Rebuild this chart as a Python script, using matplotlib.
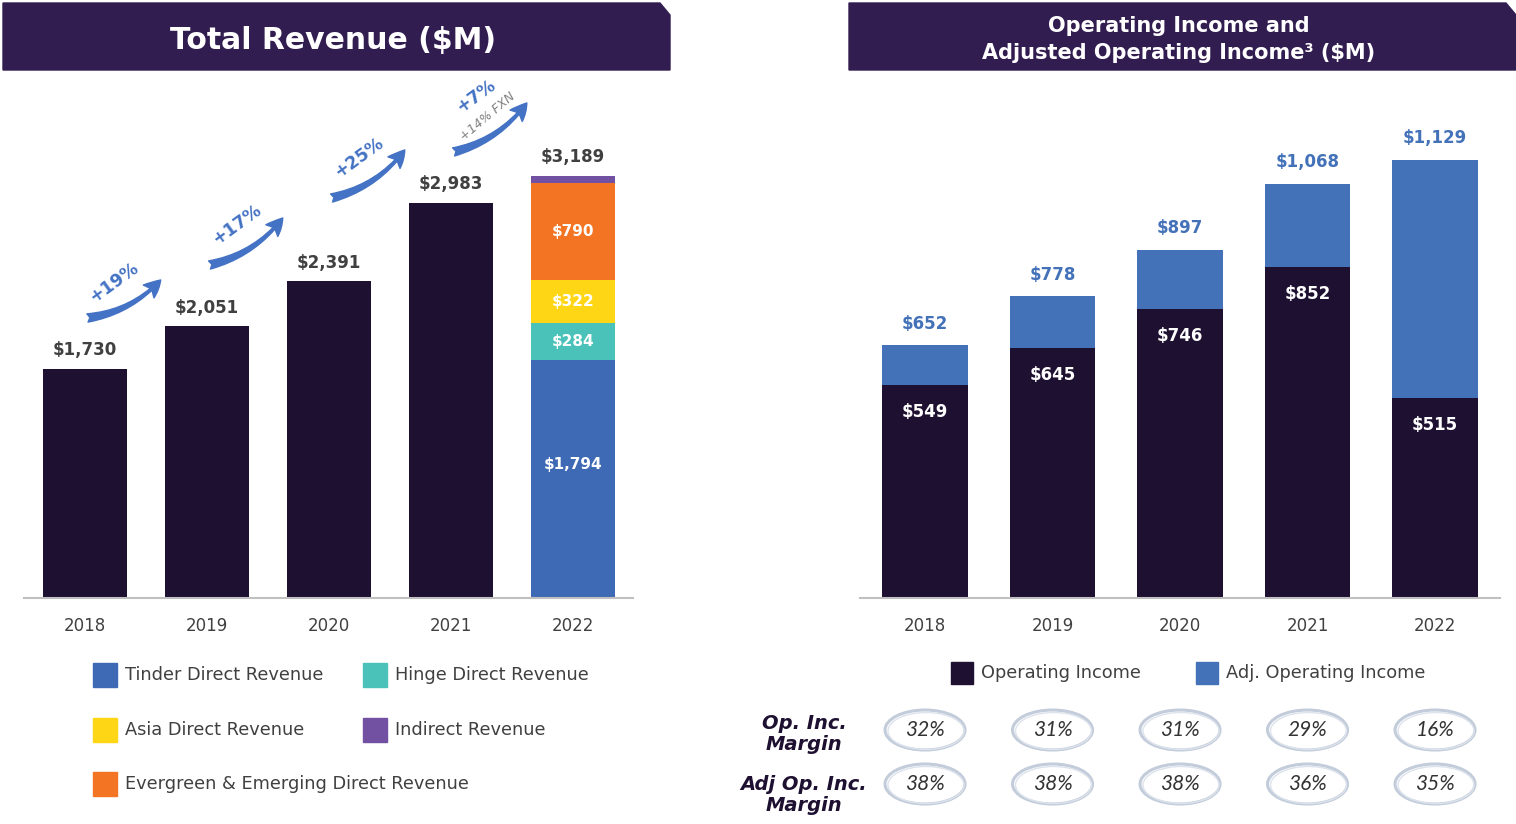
import matplotlib
matplotlib.use('Agg')
import matplotlib.pyplot as plt
from matplotlib.patches import Polygon, Rectangle, Ellipse

# ---- data ----
years = ['2018', '2019', '2020', '2021', '2022']
total_rev = [1730, 2051, 2391, 2983, 3189]
total_labels = ['$1,730', '$2,051', '$2,391', '$2,983', '$3,189']

# 2022 split (bottom -> top)
seg_names = ['Tinder Direct Revenue', 'Hinge Direct Revenue', 'Asia Direct Revenue',
             'Evergreen & Emerging Direct Revenue', 'Indirect Revenue']
seg_vals = [1794, 284, 322, 733, 56]
seg_labels = ['$1,794', '$284', '$322', '$790', '']

growth = ['+19%', '+17%', '+25%', '+7%']
growth_fxn = '+14% FXN'

op_inc = [549, 645, 746, 852, 515]
adj_op_inc = [652, 778, 897, 1068, 1129]
op_margin = ['32%', '31%', '31%', '29%', '16%']
adj_margin = ['38%', '38%', '38%', '36%', '35%']

# ---- colours ----
dark = '#1E1030'
banner = '#321D51'
seg_colors = ['#3E69B4', '#4BC2B9', '#FFD616', '#F37423', '#7351A2']
adj_blue = '#4472B9'
arrow_blue = '#4472C4'
grey_txt = '#404040'

W, H = 1516, 824
fig = plt.figure(figsize=(W / 100, H / 100), dpi=100)
plt.rcParams['font.family'] = ['DejaVu Sans']


def box(x0, y0, x1, y1):
    # pixel box (top-left origin) -> fig rect
    return [x0 / W, 1 - y1 / H, (x1 - x0) / W, (y1 - y0) / H]


# overlay axes in pixel coordinates for banners / legends / margin rings
ov = fig.add_axes([0, 0, 1, 1])
ov.set_xlim(0, W)
ov.set_ylim(H, 0)
ov.axis('off')

# ---- left chart: total revenue ----
ax1 = fig.add_axes(box(24, 75, 633, 598))
x = list(range(len(years)))
ax1.bar(x[:4], total_rev[:4], width=0.69, color=dark)
bottom = 0
for k, (v, c, lab) in enumerate(zip(seg_vals, seg_colors, seg_labels)):
    ax1.bar(x[4], v, bottom=bottom, width=0.69, color=c)
    if lab:
        ly = bottom + v * (0.56 if k == 0 else 0.5)
        ax1.text(x[4], ly, lab, ha='center', va='center',
                 color='white', fontsize=11, fontweight='bold')
    bottom += v
for i, (v, lab) in enumerate(zip(total_rev, total_labels)):
    ax1.annotate(lab, (i, v), xytext=(0, 7), textcoords='offset points',
                 ha='center', va='bottom', fontsize=12, fontweight='bold', color=grey_txt)

ax1.set_xlim(-0.5, 4.49)
ax1.set_ylim(0, 3950)

# growth swooshes between bars
arrow_y = [(2115, 2402), (2515, 2870), (3021, 3384), (3369, 3739)]
for i, g in enumerate(growth):
    y0, y1 = arrow_y[i]
    ax1.annotate('', xy=(i + 0.62, y1), xytext=(i + 0.02, y0),
                 arrowprops=dict(arrowstyle='fancy,head_length=0.6,head_width=0.6,tail_width=0.3',
                                 connectionstyle='arc3,rad=0.18', color=arrow_blue,
                                 mutation_scale=20, shrinkA=0, shrinkB=0))
    if i < 3:
        ax1.text(i + 0.24, (y0 + y1) / 2 + 125, g, ha='center', va='center',
                 rotation=36, fontsize=12.5, fontweight='bold', color=arrow_blue)
    else:
        ax1.text(i + 0.2, (y0 + y1) / 2 + 235, g, ha='center', va='center',
                 rotation=36, fontsize=12.5, fontweight='bold', color=arrow_blue)
        ax1.text(i + 0.3, (y0 + y1) / 2 + 80, growth_fxn, ha='center', va='center',
                 rotation=40, fontsize=9, color='#808080', style='italic')

# ---- right chart: operating income ----
ax2 = fig.add_axes(box(860, 75, 1500, 598))
ax2.bar(x, op_inc, width=0.67, color=dark)
ax2.bar(x, [a - o for a, o in zip(adj_op_inc, op_inc)], bottom=op_inc, width=0.67, color=adj_blue)
for i, (o, a) in enumerate(zip(op_inc, adj_op_inc)):
    ax2.annotate(f'${a:,}', (i, a), xytext=(0, 9), textcoords='offset points',
                 ha='center', va='bottom', fontsize=12, fontweight='bold', color=adj_blue)
    ax2.annotate(f'${o:,}', (i, o), xytext=(0, -13), textcoords='offset points',
                 ha='center', va='top', fontsize=12, fontweight='bold', color='white')
ax2.set_xlim(-0.51, 4.51)
ax2.set_ylim(0, 1348)

for ax in (ax1, ax2):
    ax.set_xticks(x)
    ax.set_xticklabels(years, fontsize=12, color=grey_txt)
    ax.tick_params(axis='x', length=0, pad=14)
    ax.set_yticks([])
    for s in ('top', 'right', 'left'):
        ax.spines[s].set_visible(False)
    ax.spines['bottom'].set_color('#C0C0C0')
    ax.spines['bottom'].set_linewidth(1.5)
    ax.set_facecolor('none')

# ---- banners ----
ov.add_patch(Polygon([(3, 3), (660, 3), (670, 15), (670, 70), (3, 70)], closed=True, color=banner))
ov.add_patch(Polygon([(849, 3), (1506, 3), (1516, 15), (1516, 70), (849, 70)], closed=True, color=banner))
ov.text(333, 40, 'Total Revenue ($M)', ha='center', va='center', color='white',
        fontsize=21.5, fontweight='bold')
ov.text(1179, 26, 'Operating Income and', ha='center', va='center', color='white',
        fontsize=15, fontweight='bold')
ov.text(1179, 53, 'Adjusted Operating Income³ ($M)', ha='center', va='center', color='white',
        fontsize=15, fontweight='bold')

# ---- left legend ----
leg_pos = [(93, 675), (363, 675), (93, 730), (363, 730), (93, 784)]
leg_order = [0, 1, 2, 4, 3]
for (lx, ly), k in zip(leg_pos, leg_order):
    ov.add_patch(Rectangle((lx, ly - 12), 24, 24, color=seg_colors[k]))
    ov.text(lx + 32, ly, seg_names[k], ha='left', va='center', fontsize=12.8, color=grey_txt)

# ---- right legend ----
for lx, c, name in [(951, dark, 'Operating Income'), (1196, adj_blue, 'Adj. Operating Income')]:
    ov.add_patch(Rectangle((lx, 662), 22, 22, color=c))
    ov.text(lx + 30, 673, name, ha='left', va='center', fontsize=12.8, color=grey_txt)

# ---- margin rows ----
ov.text(804, 734, 'Op. Inc.\nMargin', ha='center', va='center', fontsize=14,
        fontweight='bold', style='italic', color=dark, linespacing=1.1)
ov.text(804, 795, 'Adj Op. Inc.\nMargin', ha='center', va='center', fontsize=14,
        fontweight='bold', style='italic', color=dark, linespacing=1.1)
for i in range(5):
    cx = 860 + (i + 0.51) * 127.5
    for row_y, vals in [(730, op_margin), (784, adj_margin)]:
        ov.add_patch(Ellipse((cx, row_y), 80, 40, fill=False, ec='#C3CCDA', lw=2.2))
        ov.add_patch(Ellipse((cx + 1, row_y + 1), 76, 37, fill=False, ec='#DDE3EC', lw=1))
        ov.text(cx, row_y, vals[i], ha='center', va='center', fontsize=15,
                style='italic', fontweight='normal', family=['Lato', 'DejaVu Sans'],
                color='#333333')

fig.savefig('out.png', dpi=100)
